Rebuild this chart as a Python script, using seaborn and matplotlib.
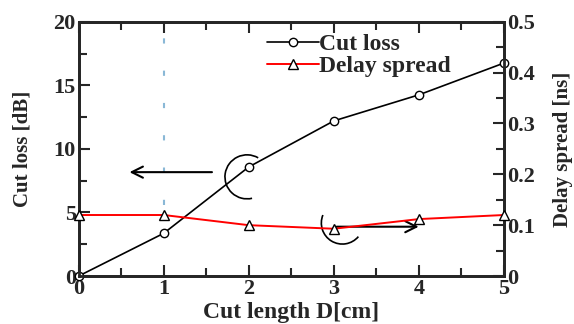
import numpy as np
import pandas as pd
import matplotlib
matplotlib.use("Agg")
import matplotlib.pyplot as plt
from matplotlib.patches import Arc
from matplotlib.lines import Line2D
import seaborn as sns

cut_length = [0, 1, 2, 3, 4, 5]
cut_loss = [0.0, 3.36, 8.58, 12.2, 14.25, 16.75]
delay_spread = [0.12, 0.12, 0.10, 0.093, 0.112, 0.12]

sns.set_style("ticks")
plt.rcParams['font.family'] = ['Liberation Serif', 'DejaVu Serif']
plt.rcParams['xtick.direction'] = 'in'
plt.rcParams['ytick.direction'] = 'in'

df = pd.DataFrame({"x": cut_length, "loss": cut_loss, "ds": delay_spread})

fig = plt.figure(figsize=(5.74, 3.24), dpi=100)
ax = fig.add_axes([0.137, 0.148, 0.741, 0.785])
ax2 = ax.twinx()

sns.lineplot(data=df, x="x", y="loss", ax=ax, color="black", lw=1.2,
             marker="o", markersize=6, markerfacecolor="white",
             markeredgecolor="black", markeredgewidth=1.0, clip_on=False, zorder=5)
sns.lineplot(data=df, x="x", y="ds", ax=ax2, color="red", lw=1.4,
             marker="^", markersize=7, markerfacecolor="white",
             markeredgecolor="black", markeredgewidth=1.0, clip_on=False, zorder=5)

ax.set_xlim(0, 5)
ax.set_ylim(0, 20)
ax2.set_ylim(0, 0.5)
ax.set_xticks(range(0, 6))
ax.set_yticks([0, 5, 10, 15, 20])
ax.set_xticks(np.arange(0.5, 5, 1), minor=True)
ax.set_yticks(np.arange(2.5, 20, 5), minor=True)
ax2.set_yticks([0, 0.1, 0.2, 0.3, 0.4, 0.5])
ax2.set_yticklabels(["0", "0.1", "0.2", "0.3", "0.4", "0.5"])
ax2.set_yticks(np.arange(0.05, 0.5, 0.1), minor=True)

for a in (ax, ax2):
    for s in a.spines.values():
        s.set_linewidth(2)
        s.set_visible(True)
ax.tick_params(axis='both', which='major', length=8, width=1.5, labelsize=16, pad=2,
               top=True, bottom=True, left=True, right=False)
ax.tick_params(axis='both', which='minor', length=6, width=1.5, top=True, bottom=True)
ax2.tick_params(axis='y', which='major', length=8, width=1.5, labelsize=16, pad=2)
ax2.tick_params(axis='y', which='minor', length=6, width=1.5)
for lab in ax.get_xticklabels() + ax.get_yticklabels() + ax2.get_yticklabels():
    lab.set_fontweight('bold')

ax.set_xlabel("Cut length D[cm]", fontsize=17, fontweight='bold', labelpad=2)
ax.set_ylabel("Cut loss [dB]", fontsize=15, fontweight='bold', labelpad=15)
ax2.set_ylabel("Delay spread [ns]", fontsize=15, fontweight='bold', labelpad=13)

# dotted light blue line at x=1
ax.plot([1, 1], [5.6, 18.8], color="#8ab8d6", lw=1.5, dashes=(2.5, 13), zorder=1)

# arrows
ax.annotate("", xy=(0.565, 8.17), xytext=(1.6, 8.17),
            arrowprops=dict(arrowstyle='->', lw=1.5, color='black', mutation_scale=20))
ax.annotate("", xy=(4.03, 3.88), xytext=(3.0, 3.88),
            arrowprops=dict(arrowstyle='->', lw=1.5, color='black', mutation_scale=20))
ax.add_patch(Arc((1.98, 7.8), 0.52, 3.46, theta1=85, theta2=272, color='black', lw=1.2))
ax.add_patch(Arc((3.10, 4.17), 0.494, 3.31, theta1=110, theta2=280, color='black', lw=1.2))

handles = [Line2D([], [], color='black', lw=1.2, marker='o', markersize=6,
                  markerfacecolor='white', markeredgecolor='black'),
           Line2D([], [], color='red', lw=1.4, marker='^', markersize=7,
                  markerfacecolor='white', markeredgecolor='black')]
leg = ax2.legend(handles, ["Cut loss", "Delay spread"], loc='upper left',
                 bbox_to_anchor=(0.443, 0.952), frameon=False,
                 handlelength=2.2, handletextpad=0.0, borderpad=0, borderaxespad=0,
                 labelspacing=0.0, prop=dict(size=17, weight='bold'))

fig.savefig("out.png", dpi=100)
